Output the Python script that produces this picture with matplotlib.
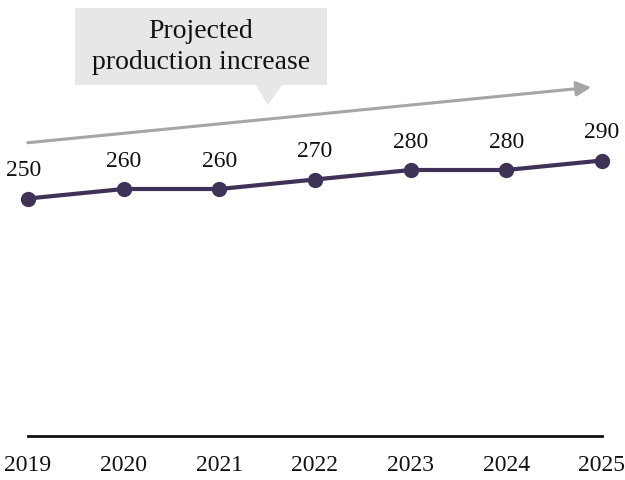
import matplotlib
matplotlib.use("Agg")
import matplotlib.pyplot as plt
from matplotlib.patches import Polygon, FancyArrowPatch

years = [2019, 2020, 2021, 2022, 2023, 2024, 2025]
production = [250, 260, 260, 270, 280, 280, 290]
callout_text = "Projected\nproduction increase"

plt.rcParams['font.family'] = ['Liberation Serif', 'DejaVu Serif']

fig = plt.figure(figsize=(6.25, 4.8), dpi=100)
W, H = 625, 480
# axes: x 2019->28px, 2025->602px; y 0->436px
ax = fig.add_axes([28 / W, 44 / H, 574 / W, 436 / H])
ax.set_xlim(2019, 2025)
ax.set_ylim(0, 436 / 0.95)

line_color = '#3f3257'
ax.plot(years, production, color=line_color, lw=3, marker='o', ms=10, clip_on=False, zorder=3)
for x, y in zip(years, production):
    ax.annotate(str(y), (x, y), xytext=(-3 if x == 2019 else 0, 20), textcoords='offset points',
                ha='center', va='center', fontsize=17, color='#111111')

for s in ['top', 'right', 'left']:
    ax.spines[s].set_visible(False)
ax.spines['bottom'].set_linewidth(2)
ax.spines['bottom'].set_color('#111111')
ax.set_yticks([])
ax.set_xticks(years)
ax.set_xticklabels([str(y) for y in years], fontsize=17, color='#111111')
ax.tick_params(axis='x', length=0, pad=14)


def px(x, y):
    return (x / W, 1 - y / H)


# trend arrow
arrow = FancyArrowPatch(px(25, 143), px(594, 87), transform=fig.transFigure,
                        arrowstyle='-|>', mutation_scale=22, lw=2.2, color='#a6a6a6')
fig.add_artist(arrow)

# callout box with pointer
box = Polygon([px(75, 8), px(327, 8), px(327, 85), px(282, 85), px(268, 105),
               px(256, 85), px(75, 85)], closed=True, transform=fig.transFigure,
              facecolor='#e7e7e7', edgecolor='none')
fig.add_artist(box)
fig.text(201 / W, 1 - 47 / H, callout_text, ha='center', va='center', fontsize=20,
         color='#111111', linespacing=1.3)

fig.savefig('out.png', dpi=100)
